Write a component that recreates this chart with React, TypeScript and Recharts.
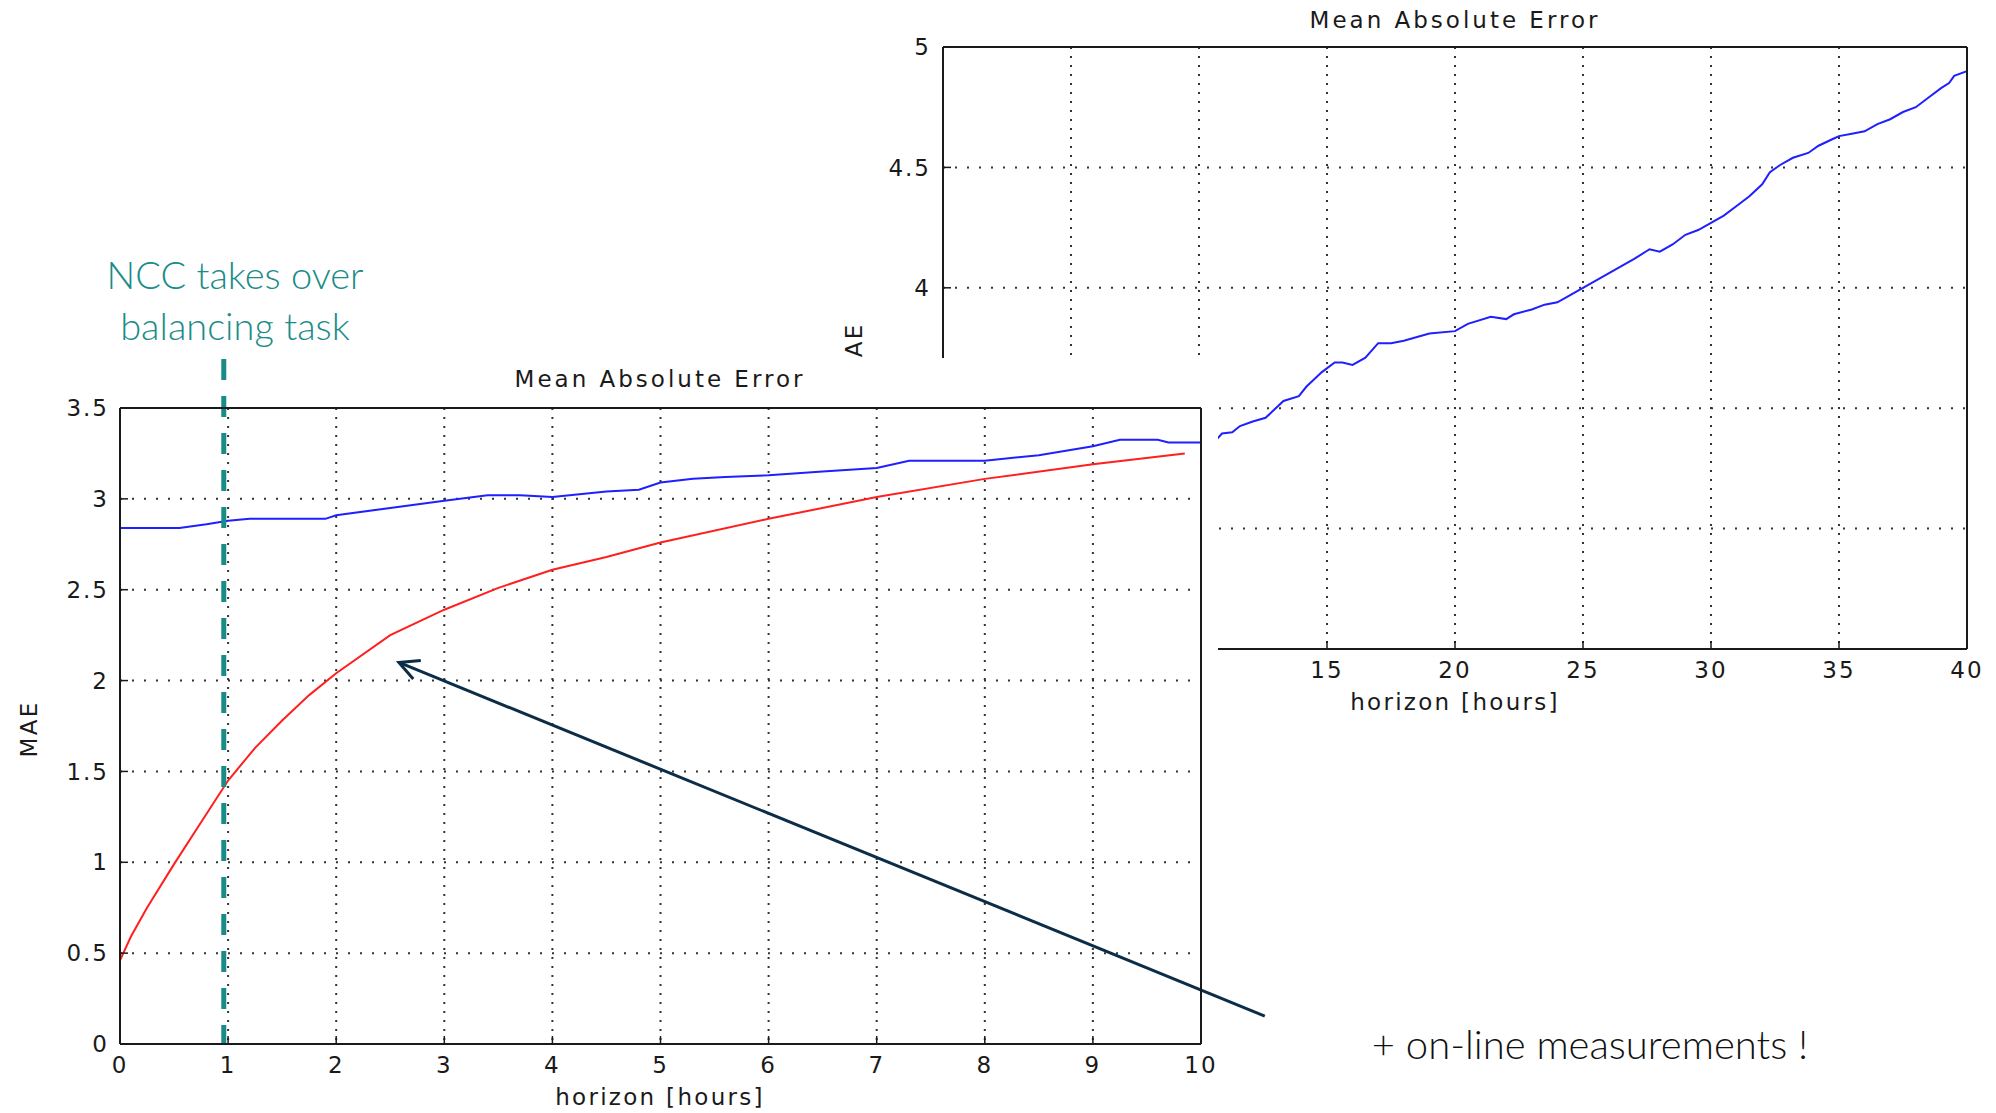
import React from 'react';
import { LineChart, Line, XAxis, YAxis, CartesianGrid, ReferenceLine } from 'recharts';

// front panel: horizon 0-10 h
const frontHourTicks = [0, 1, 2, 3, 4, 5, 6, 7, 8, 9, 10];
const frontMaeTicks = [0, 0.5, 1, 1.5, 2, 2.5, 3, 3.5];

// blue: without on-line measurements
const blueHours = [0, 0.55, 0.8, 1, 1.2, 1.9, 2, 2.5, 3, 3.4, 3.7, 4, 4.5, 4.8, 5, 5.3, 5.6, 6, 6.5, 7, 7.3, 8, 8.5, 9, 9.25, 9.6, 9.7, 10];
const blueMae = [2.84, 2.84, 2.86, 2.88, 2.89, 2.89, 2.91, 2.95, 2.99, 3.02, 3.02, 3.01, 3.04, 3.05, 3.09, 3.11, 3.12, 3.13, 3.15, 3.17, 3.21, 3.21, 3.24, 3.29, 3.325, 3.325, 3.31, 3.31];

// red: with on-line measurements
const redHours = [0, 0.1, 0.25, 0.5, 0.75, 1, 1.25, 1.5, 1.75, 2, 2.5, 3, 3.5, 4, 4.5, 5, 6, 7, 8, 9, 9.85];
const redMae = [0.46, 0.59, 0.75, 0.99, 1.22, 1.45, 1.63, 1.78, 1.92, 2.04, 2.25, 2.39, 2.51, 2.61, 2.68, 2.76, 2.89, 3.01, 3.11, 3.19, 3.25];

// back panel: horizon 0-40 h
const backHourTicks = [0, 5, 10, 15, 20, 25, 30, 35, 40];
const backMaeTicks = [2.5, 3, 3.5, 4, 4.5, 5];
const backHours = [10.6, 10.9, 11.3, 11.6, 12.1, 12.6, 13.3, 13.9, 14.2, 14.8, 15.3, 15.6, 16, 16.5, 17, 17.5, 18, 19, 20, 20.5, 21.4, 22, 22.3, 23, 23.5, 24, 24.5, 25, 25.5, 26, 26.5, 27, 27.6, 28, 28.5, 29, 29.5, 30, 30.5, 31, 31.5, 32, 32.3, 32.7, 33.2, 33.8, 34.2, 34.8, 35, 35.5, 36, 36.5, 37, 37.5, 38, 38.5, 39, 39.3, 39.5, 40];
const backMae = [3.36, 3.395, 3.4, 3.426, 3.445, 3.46, 3.53, 3.55, 3.59, 3.65, 3.69, 3.69, 3.68, 3.71, 3.77, 3.77, 3.78, 3.81, 3.82, 3.85, 3.88, 3.87, 3.89, 3.91, 3.93, 3.94, 3.97, 4.0, 4.03, 4.06, 4.09, 4.12, 4.16, 4.15, 4.18, 4.22, 4.24, 4.27, 4.3, 4.34, 4.38, 4.43, 4.48, 4.51, 4.54, 4.56, 4.59, 4.62, 4.63, 4.64, 4.65, 4.68, 4.7, 4.73, 4.75, 4.79, 4.83, 4.85, 4.88, 4.9];

// annotations (in front-panel data units)
const nccHour = 0.96;
const nccTopMae = 3.77;
const arrowTip = { h: 2.58, mae: 2.1 };
const arrowTail = { h: 10.59, mae: 0.154 };

const zip = (hs: number[], vs: number[]) => hs.map((h, i) => ({ h, v: vs[i] }));
const blueData = zip(blueHours, blueMae);
const redData = zip(redHours, redMae);
const backData = zip(backHours, backMae);

const INK = '#1a1a1a';
const TEAL = '#1a8c88';
const NAVY = '#0c2d48';
const tickStyle = { fill: INK, fontSize: 23, letterSpacing: 2 };
const matlabFont: React.CSSProperties = {
  fontFamily: '"DejaVu Sans", sans-serif', fontSize: 23, letterSpacing: 2.3, color: INK,
};
const blank = () => '';
const axisLine = { stroke: INK, strokeWidth: 2 };
const tickLine = { stroke: INK, strokeWidth: 1.5 };

function Caption({ x, y, text, rotate = 0, style }: {
  x: number; y: number; text: React.ReactNode; rotate?: number; style: React.CSSProperties;
}) {
  return (
    <div
      style={{
        position: 'absolute', left: x, top: y, whiteSpace: 'nowrap', lineHeight: 1.3,
        transform: `translate(-50%, -50%) rotate(${rotate}deg)`, textAlign: 'center', ...style,
      }}
    >
      {text}
    </div>
  );
}

// open arrow head drawn at (x1, y1)
function ArrowShape(props: any) {
  const { x1, y1, x2, y2 } = props;
  const ang = Math.atan2(y2 - y1, x2 - x1);
  const len = 22;
  const spread = 0.47;
  const ax = x1 + len * Math.cos(ang - spread);
  const ay = y1 + len * Math.sin(ang - spread);
  const bx = x1 + len * Math.cos(ang + spread);
  const by = y1 + len * Math.sin(ang + spread);
  return (
    <g>
      <line x1={x1} y1={y1} x2={x2} y2={y2} stroke={NAVY} strokeWidth={3} />
      <polyline points={`${ax},${ay} ${x1},${y1} ${bx},${by}`} fill="none" stroke={NAVY} strokeWidth={3} />
    </g>
  );
}

export default function App() {
  return (
    <div style={{ position: 'absolute', left: 0, top: 0, width: 1996, height: 1113, overflow: 'hidden', background: '#fff' }}>
      {/* back panel: 0-40 h */}
      <div style={{ position: 'absolute', left: 840, top: 0, zIndex: 1, fontFamily: '"DejaVu Sans", sans-serif' }}>
        <LineChart width={1156} height={730} margin={{ top: 46, right: 28, bottom: 41, left: 33 }}>
          <CartesianGrid horizontal vertical={false} stroke="#333" strokeWidth={2} strokeDasharray="2 10" />
          <CartesianGrid horizontal={false} vertical stroke="#333" strokeWidth={2} strokeDasharray="2 7" />
          <XAxis dataKey="h" type="number" domain={[0, 40]} ticks={backHourTicks} interval={0}
            height={40} tickSize={-8} tickMargin={21} tick={tickStyle}
            axisLine={axisLine} tickLine={tickLine} />
          <XAxis xAxisId="top" orientation="top" dataKey="h" type="number" domain={[0, 40]} ticks={backHourTicks}
            interval={0} height={1} tickSize={-8} tickFormatter={blank}
            axisLine={axisLine} tickLine={tickLine} />
          <YAxis type="number" domain={[2.5, 5]} ticks={backMaeTicks} interval={0} width={70}
            tickSize={-8} tickMargin={20} tick={tickStyle}
            axisLine={axisLine} tickLine={tickLine} />
          <YAxis yAxisId="right" orientation="right" type="number" domain={[2.5, 5]} ticks={backMaeTicks}
            interval={0} width={1} tickSize={-8} tickFormatter={blank}
            axisLine={axisLine} tickLine={tickLine} />
          <Line data={backData} dataKey="v" type="linear" stroke="#1f1fff" strokeWidth={2}
            dot={false} isAnimationActive={false} />
        </LineChart>
      </div>
      <Caption x={1455} y={21} text="Mean Absolute Error" style={{ ...matlabFont, letterSpacing: 3, zIndex: 1 }} />
      <Caption x={1455} y={703} text="horizon [hours]" style={{ ...matlabFont, zIndex: 1 }} />
      <Caption x={855} y={351} text="MAE" rotate={-90} style={{ ...matlabFont, zIndex: 1 }} />

      {/* front panel sheet */}
      <div style={{ position: 'absolute', left: 0, top: 358, width: 1218, height: 755, background: '#fff', zIndex: 2 }} />

      {/* front panel: 0-10 h */}
      <div style={{ position: 'absolute', left: 0, top: 358, zIndex: 3, fontFamily: '"DejaVu Sans", sans-serif' }}>
        <LineChart width={1300} height={755} margin={{ top: 49, right: 98, bottom: 29, left: 50 }}>
          <CartesianGrid horizontal vertical={false} stroke="#333" strokeWidth={2} strokeDasharray="2 10" />
          <CartesianGrid horizontal={false} vertical stroke="#333" strokeWidth={2} strokeDasharray="2 7" />
          <XAxis dataKey="h" type="number" domain={[0, 10]} ticks={frontHourTicks} interval={0}
            height={40} tickSize={-8} tickMargin={21} tick={tickStyle}
            axisLine={axisLine} tickLine={tickLine} />
          <XAxis xAxisId="top" orientation="top" dataKey="h" type="number" domain={[0, 10]} ticks={frontHourTicks}
            interval={0} height={1} tickSize={-8} tickFormatter={blank}
            axisLine={axisLine} tickLine={tickLine} />
          <YAxis type="number" domain={[0, 3.5]} ticks={frontMaeTicks} interval={0} width={70}
            tickSize={-8} tickMargin={19} tick={tickStyle}
            axisLine={axisLine} tickLine={tickLine} />
          <YAxis yAxisId="right" orientation="right" type="number" domain={[0, 3.5]} ticks={frontMaeTicks}
            interval={0} width={1} tickSize={-8} tickFormatter={blank}
            axisLine={axisLine} tickLine={tickLine} />
          <Line data={blueData} dataKey="v" type="linear" stroke="#1f1fff" strokeWidth={2}
            dot={false} isAnimationActive={false} />
          <Line data={redData} dataKey="v" type="linear" stroke="#ff1f1f" strokeWidth={2}
            dot={false} isAnimationActive={false} />
          <ReferenceLine
            segment={[{ x: nccHour, y: nccTopMae }, { x: nccHour, y: 0 }]}
            ifOverflow="visible" stroke={TEAL} strokeWidth={5} strokeDasharray="21 16"
          />
          <ReferenceLine
            segment={[{ x: arrowTip.h, y: arrowTip.mae }, { x: arrowTail.h, y: arrowTail.mae }]}
            ifOverflow="visible" shape={ArrowShape}
          />
        </LineChart>
      </div>
      <Caption x={660} y={380} text="Mean Absolute Error" style={{ ...matlabFont, letterSpacing: 3, zIndex: 3 }} />
      <Caption x={660} y={1098} text="horizon [hours]" style={{ ...matlabFont, zIndex: 3 }} />
      <Caption x={30} y={729} text="MAE" rotate={-90} style={{ ...matlabFont, zIndex: 3 }} />

      <Caption x={235} y={300} text={<>NCC takes over<br />balancing task</>}
        style={{ fontFamily: 'Lato, sans-serif', fontWeight: 300, fontSize: 38, lineHeight: '51px', color: TEAL, zIndex: 4 }} />
      <Caption x={1590} y={1044} text="+ on-line measurements !"
        style={{ fontFamily: 'Lato, sans-serif', fontWeight: 300, fontSize: 40, color: '#111', zIndex: 4 }} />
    </div>
  );
}
